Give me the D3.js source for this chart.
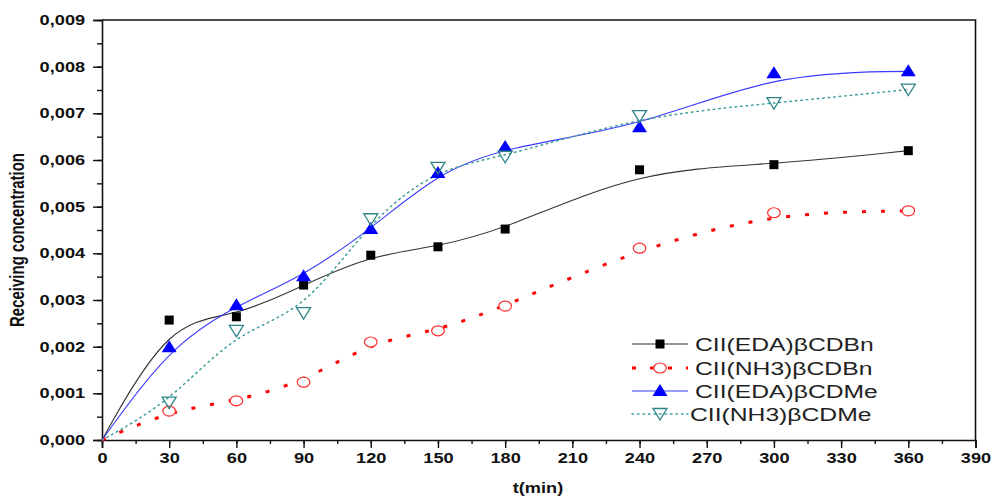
<!DOCTYPE html>
<html>
<head>
<meta charset="utf-8">
<script src="https://cdn.jsdelivr.net/npm/d3@7"></script>
<style>
  html, body { margin: 0; padding: 0; background: #fff; }
  svg { display: block; font-family: "Liberation Sans", Arial, sans-serif; }
</style>
</head>
<body>
<svg id="chart" width="991" height="497"></svg>
<script>
// ── Data ──────────────────────────────────────────────────
const times  = [0, 30, 60, 90, 120, 150, 180, 240, 300, 360];
const edaBn  = [0, 0.00257, 0.00264, 0.00332, 0.00396, 0.00414, 0.00452, 0.00579, 0.00590, 0.00620];
const nh3Bn  = [0, 0.00062, 0.00084, 0.00124, 0.00210, 0.00234, 0.00287, 0.00411, 0.00487, 0.00491];
const edaMe  = [0, 0.00199, 0.00289, 0.00351, 0.00452, 0.00572, 0.00628, 0.00670, 0.00786, 0.00790];
const nh3Me  = [0, 0.00080, 0.00234, 0.00272, 0.00473, 0.00583, 0.00607, 0.00694, 0.00722, 0.00751];
const seriesNames = ['CII(EDA)\u03B2CDBn', 'CII(NH3)\u03B2CDBn', 'CII(EDA)\u03B2CDMe', 'CII(NH3)\u03B2CDMe'];
const xTicks = d3.range(0, 391, 30);
const yTicks = d3.range(0, 10).map(i => i * 0.001);

const STRETCH = 1.3;  // the original is stretched horizontally

const svg = d3.select('#chart');
const x = d3.scaleLinear().domain([0, 390]).range([102, 975.5]);
const y = d3.scaleLinear().domain([0, 0.009]).range([440, 20]);

const fmt = d3.formatLocale({ decimal: ',', thousands: '.', grouping: [3], currency: ['', ''] }).format('.3f');

// ── Axes ─────────────────────────────────────────────────
// minor ticks
svg.append('g')
   .attr('transform', `translate(${x(0)},0)`)
   .call(d3.axisLeft(y).tickValues(d3.range(0, 19).map(i => i * 0.0005)).tickSize(5).tickFormat(''))
   .call(g => g.select('.domain').remove());
svg.append('g')
   .attr('transform', `translate(0,${y(0)})`)
   .call(d3.axisBottom(x).tickValues(d3.range(0, 391, 15)).tickSize(4).tickFormat(''))
   .call(g => g.select('.domain').remove());

const yAxis = svg.append('g')
   .attr('transform', `translate(${x(0)},0)`)
   .call(d3.axisLeft(y).tickValues(yTicks).tickSize(9).tickPadding(4).tickFormat(fmt));
const xAxis = svg.append('g')
   .attr('transform', `translate(0,${y(0)})`)
   .call(d3.axisBottom(x).tickValues(xTicks).tickSize(8).tickPadding(5));

[yAxis, xAxis].forEach(a => {
    a.selectAll('text')
     .attr('font-size', '14px')
     .attr('font-weight', 'bold')
     .attr('font-family', '"Liberation Sans", Arial, sans-serif')
     .attr('fill', '#111');
    a.selectAll('line, path').attr('stroke', '#111').attr('stroke-width', 1.6);
});
yAxis.selectAll('text').attr('transform', `scale(${STRETCH},1)`)
     .attr('x', -13);
xAxis.selectAll('.tick text').attr('transform', `scale(${STRETCH},1)`);
svg.selectAll('.tick line').attr('stroke', '#111').attr('stroke-width', 1.4);

// top and right frame
svg.append('path')
   .attr('d', `M${x(0)},${y(0.009)}H${x(390)}V${y(0)}`)
   .attr('fill', 'none')
   .attr('stroke', '#111')
   .attr('stroke-width', 1.6);

// axis titles
svg.append('text')
   .attr('transform', `translate(538,493) scale(${STRETCH},1)`)
   .attr('text-anchor', 'middle')
   .attr('font-size', '14px')
   .attr('font-weight', 'bold')
   .attr('fill', '#111')
   .text('t(min)');

svg.append('text')
   .attr('transform', `translate(24,240) rotate(-90) scale(1,${STRETCH})`)
   .attr('text-anchor', 'middle')
   .attr('font-size', '15px')
   .attr('font-weight', 'bold')
   .attr('fill', '#111')
   .text('Receiving concentration');

// ── Series ───────────────────────────────────────────────
const series = [
    { name: seriesNames[0], values: edaBn, line: '#333333', width: 1.1, dash: null, marker: 'square' },
    { name: seriesNames[1], values: nh3Bn, line: '#ff0000', width: 3, dash: '4,15', marker: 'circle' },
    { name: seriesNames[2], values: edaMe, line: '#3a3aff', width: 1.1, dash: null, marker: 'up' },
    { name: seriesNames[3], values: nh3Me, line: '#3d9d9d', width: 1.5, dash: '1.5,4', marker: 'down' },
];

const line = d3.line()
    .x(d => x(d[0]))
    .y(d => y(d[1]))
    .curve(d3.curveBasis);

function drawMarker(g, type) {
    if (type === 'square') {
        g.append('rect').attr('x', -4.5).attr('y', -4.5).attr('width', 9).attr('height', 9)
         .attr('fill', '#000');
    } else if (type === 'circle') {
        g.append('ellipse').attr('rx', 6.3).attr('ry', 5)
         .attr('fill', '#fff').attr('stroke', '#ff2a2a').attr('stroke-width', 1.2);
    } else if (type === 'up') {
        g.append('path').attr('d', 'M0,-7L7.5,5L-7.5,5Z').attr('fill', '#0000ff');
    } else if (type === 'down') {
        g.append('path').attr('d', 'M0,6L7,-5.5L-7,-5.5Z')
         .attr('fill', 'none').attr('stroke', '#2f8585').attr('stroke-width', 1.3);
    }
}

series.forEach(s => {
    const pts = times.map((t, i) => [t, s.values[i]]);
    svg.append('path')
       .datum(pts)
       .attr('fill', 'none')
       .attr('stroke', s.line)
       .attr('stroke-width', s.width)
       .attr('stroke-dasharray', s.dash)
       .attr('stroke-linecap', s.marker === 'down' ? 'round' : null)
       .attr('d', line);
});

series.forEach(s => {
    const pts = times.map((t, i) => [t, s.values[i]]).filter(d => d[0] > 0);
    svg.selectAll(null)
       .data(pts)
       .join('g')
       .attr('transform', d => `translate(${x(d[0])},${y(d[1])})`)
       .each(function () { drawMarker(d3.select(this), s.marker); });
});

// ── Legend ───────────────────────────────────────────────
const legendRows = [344, 368, 391, 414];
series.forEach((s, i) => {
    const row = svg.append('g').attr('transform', `translate(0,${legendRows[i]})`);
    row.append('line')
       .attr('x1', 632).attr('x2', 688)
       .attr('stroke', s.line)
       .attr('stroke-width', s.width)
       .attr('stroke-dasharray', s.dash ? (i === 1 ? '4,14' : '1.5,4') : null)
       .attr('stroke-linecap', i === 3 ? 'round' : null);
    const m = row.append('g').attr('transform', 'translate(660,0)');
    drawMarker(m, s.marker);
    const tx = i === 3 ? 690 : 695;
    row.append('text')
       .attr('transform', `translate(${tx},0) scale(${STRETCH},1)`)
       .attr('dy', '0.36em')
       .attr('font-size', '19px')
       .attr('fill', '#222')
       .text(s.name);
});
</script>
</body>
</html>
